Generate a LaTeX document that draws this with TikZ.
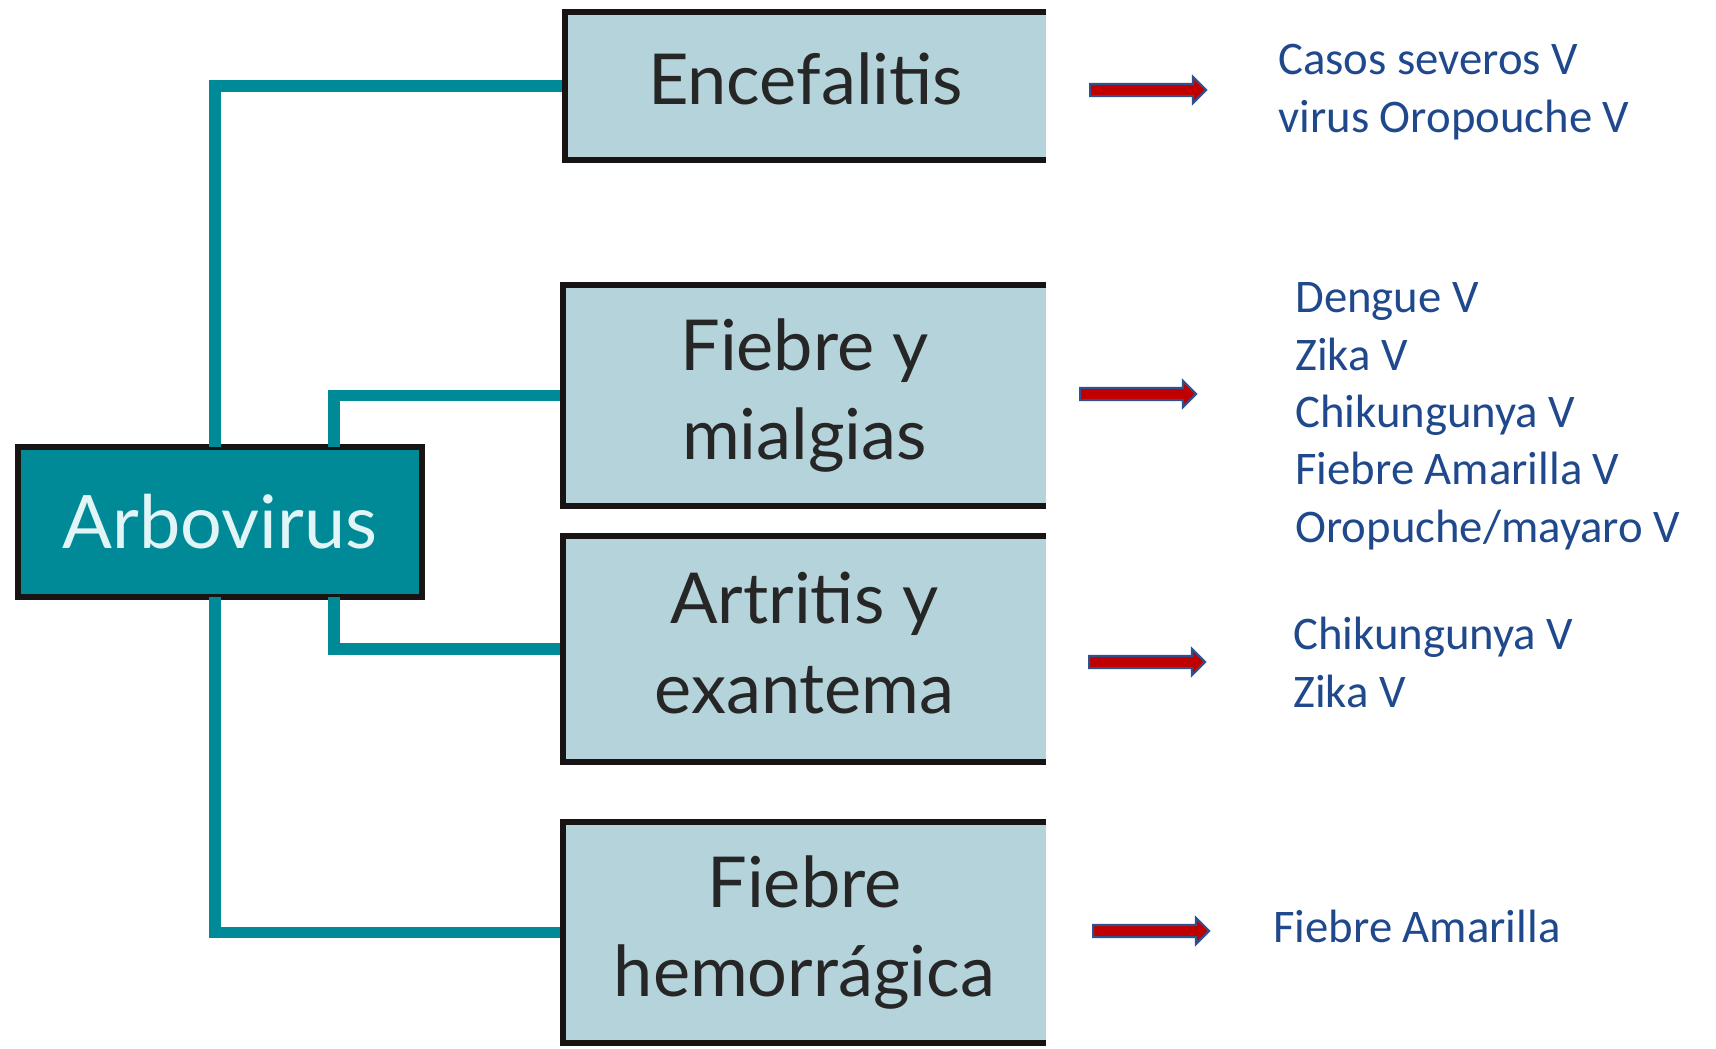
\documentclass[tikz,border=0pt]{standalone}
\usepackage{fontspec}
\setmainfont{Lato}
\newfontfamily\calibri{Carlito}
\usetikzlibrary{shapes.arrows}

\definecolor{cajaazul}{RGB}{181,211,218}
\definecolor{verdeazul}{RGB}{0,137,151}
\definecolor{borde}{RGB}{25,20,20}
\definecolor{azultexto}{RGB}{31,73,140}
\definecolor{rojoflecha}{RGB}{192,0,0}
\definecolor{azulflecha}{RGB}{47,82,143}
\definecolor{textoclaro}{RGB}{225,245,247}

\begin{document}
\begin{tikzpicture}[x=0.02cm, y=-0.02cm,
	caja/.style={fill=cajaazul, inner sep=0pt, align=center, text=black!85,
		font=\fontsize{40}{51}\selectfont, minimum width=9.66cm},
	marco/.style={draw=borde, line width=3.4pt},
	ligacao/.style={draw=verdeazul, line width=6.8pt},
	flecha/.style={single arrow, fill=rojoflecha, draw=azulflecha, line width=1.2pt,
		inner sep=0.1cm, minimum height=2.32cm, single arrow head extend=0.14cm,
		single arrow head indent=0pt},
	lista/.style={font=\calibri\fontsize{26.6}{32.6}\selectfont, text=azultexto,
		align=left, inner sep=0pt, anchor=base west}]
	\useasboundingbox (0,0) rectangle (1716,1048);

	%caixa central
	\node[fill=verdeazul, draw=borde, line width=3.4pt, minimum width=8.08cm, minimum height=3cm,
		text=textoclaro, font=\fontsize{42}{50}\selectfont] (arbo) at (220,522) {Arbovirus};

	%caixas da direita
	\node[caja, minimum width=9.62cm, minimum height=2.96cm, text depth=0.28cm] (enc) at (805.5,86) {Encefalitis};
	\node[caja, minimum height=4.42cm] (fie) at (804.5,395.5) {Fiebre y\\mialgias};
	\node[caja, minimum height=4.52cm, text depth=0.25cm] (art) at (804.5,649) {Artritis y\\exantema};
	\node[caja, minimum height=4.42cm] (hem) at (804.5,932.5) {Fiebre\\hemorrágica};

	\foreach \c in {enc, fie, art, hem}
		\draw[marco] (\c.north east) -- (\c.north west) -- (\c.south west) -- (\c.south east);

	%ramas
	\coordinate (troncoA) at (215,447);
	\coordinate (troncoB) at (334,447);
	\coordinate (troncoC) at (215,597);
	\coordinate (troncoD) at (334,597);
	\draw[ligacao, shorten <=0.06cm] (enc.west) -| (troncoA);
	\draw[ligacao, shorten <=0.06cm] (fie.west) -| (troncoB);
	\draw[ligacao, shorten <=0.06cm] (art.west) -| (troncoD);
	\draw[ligacao, shorten <=0.06cm] (hem.west) -| (troncoC);

	%flechas
	\node[flecha] (f1) at (1145,90) {};
	\node[flecha] (f2) at (1135,394) {};
	\node[flecha] (f3) at (1144,662) {};
	\node[flecha] (f4) at (1148,931) {};

	%virus (ancla en la ultima linea)
	\node[lista] (v1) at (1278,132) {Casos severos V\\virus Oropouche V};
	\node[lista] (v2) at (1295,542) {Dengue V\\Zika V\\Chikungunya V\\Fiebre Amarilla V\\Oropuche/mayaro V};
	\node[lista] (v3) at (1293,707) {Chikungunya V\\Zika V};
	\node[lista] (v4) at (1273,942) {Fiebre Amarilla};
\end{tikzpicture}
\end{document}
